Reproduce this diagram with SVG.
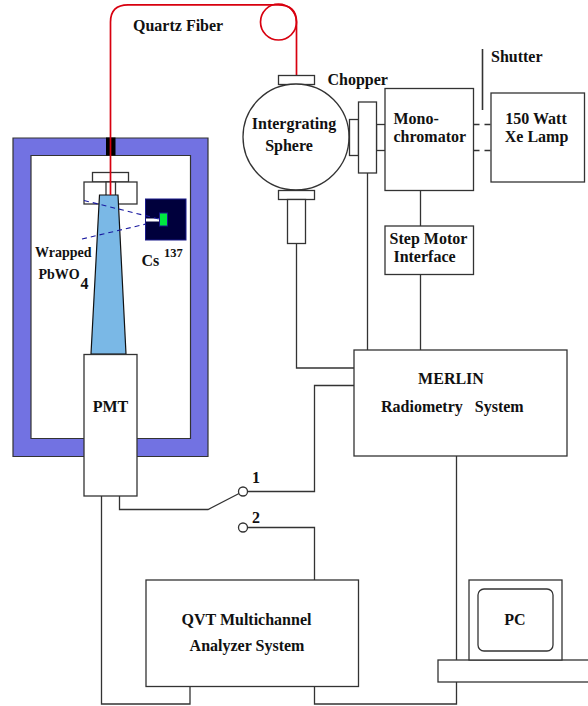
<svg xmlns="http://www.w3.org/2000/svg" width="588" height="706" viewBox="0 0 588 706">
<style>
.b{fill:#fff;stroke:#333;stroke-width:1.3}
.l{fill:none;stroke:#333;stroke-width:1.3}
.t{font-family:"Liberation Serif","Times New Roman",serif;font-weight:bold;font-size:16px;fill:#111}
.s{font-size:14px}
.x{font-size:12.500px}
.m{text-anchor:middle}
.r{fill:none;stroke:#d8000f;stroke-width:1.700}
</style>
<rect width="588" height="706" fill="#fff"/>
<g id="shield">
<path d="M13 138H208V456.500H13Z M31 155.500V438.500H190.500V155.500Z" fill="#7272e2" fill-rule="evenodd" stroke="#333" stroke-width="1.2"/>
<rect x="106" y="137.500" width="9.500" height="18" fill="#000"/>
</g>
<g id="connectors">
<path class="l" d="M296.500 243V368H354"/>
<path class="l" d="M367.500 173V350"/>
<path class="l" d="M420.500 190V226M420.500 274V350"/>
<path class="l" d="M354 385.500H314.500V491.500H248"/>
<path class="l" d="M119.500 496V509.500H208L240 493"/>
<path class="l" d="M248 527.500H314.500V580"/>
<path class="l" d="M101.500 496V704H190V686"/>
<path class="l" d="M314.500 686V704H456.500V456"/>
<path class="l" d="M473.500 124.500H491M473.500 150.500H491" stroke-dasharray="6 5"/>
<path class="l" style="stroke-width:1.600" d="M482.500 49V110"/>
</g>
<g id="holder">
<rect class="b" x="92.500" y="172.500" width="36" height="9.500"/>
<rect class="b" x="84" y="182" width="53" height="22"/>
<rect class="b" x="106" y="182" width="9.500" height="14"/>
</g>
<g id="crystal">
<path d="M99.500 195H118L126 354H91Z" fill="#7ab8e6" stroke="#111" stroke-width="1.2"/>
</g>
<g id="source">
<rect x="145.500" y="199" width="40.500" height="41" fill="#00003c" stroke="#1a1a8a"/>
<rect x="146" y="218.500" width="14" height="3" fill="#fff"/>
<rect x="159.500" y="213" width="8" height="13" fill="#00e840" stroke="#1a1a8a"/>
<path d="M84 200.500L159 219M82 239L146 224" fill="none" stroke="#1a1aa0" stroke-width="1.1" stroke-dasharray="5 4"/>
</g>
<g id="fiber">
<path class="r" d="M110.500 195V22Q110.500 4.800 128 4.800H278Q296.500 4.800 296.500 22V75"/>
<circle class="r" cx="278.500" cy="22" r="18"/>
</g>
<g id="pmt">
<rect class="b" x="84" y="354.500" width="53" height="141.500"/>
<text class="t m" x="110.500" y="411.500">PMT</text>
</g>
<g id="sphere">
<rect class="b" x="278.500" y="75.500" width="36" height="9"/>
<circle class="b" cx="296" cy="137" r="53"/>
<rect class="b" x="278.500" y="190.500" width="36" height="9"/>
<rect class="b" x="287.500" y="199.500" width="18" height="44"/>
<text class="t m" x="294" y="129">Intergrating</text>
<text class="t m" x="289" y="151">Sphere</text>
</g>
<g id="chopper">
<rect class="b" x="349.500" y="119.500" width="9" height="36"/>
<rect class="b" x="376.500" y="124.500" width="9" height="26"/>
<rect class="b" x="358.500" y="102" width="18" height="71"/>
<text class="t" x="327.500" y="85">Chopper</text>
</g>
<g id="monochromator">
<rect class="b" x="385" y="88.500" width="88.500" height="102"/>
<text class="t" x="393.500" y="123.500">Mono-</text>
<text class="t" x="393.500" y="142">chromator</text>
</g>
<g id="shutter"><text class="t" x="491" y="62">Shutter</text></g>
<g id="lamp">
<rect class="b" x="491" y="93" width="93.500" height="89"/>
<text class="t m" x="536" y="123.500">150 Watt</text>
<text class="t m" x="536.500" y="142">Xe Lamp</text>
</g>
<g id="step-motor">
<rect class="b" x="385" y="226" width="88.500" height="48.500"/>
<text class="t m" x="428.500" y="244">Step Motor</text>
<text class="t m" x="424.500" y="262">Interface</text>
</g>
<g id="merlin">
<rect class="b" x="354" y="350" width="213" height="106"/>
<text class="t m" x="451" y="384">MERLIN</text>
<text class="t" x="381" y="412" xml:space="preserve">Radiometry   System</text>
</g>
<g id="switch">
<circle class="b" cx="243" cy="491.500" r="4.500"/>
<circle class="b" cx="243" cy="527.500" r="4.500"/>
<text class="t" x="252" y="483">1</text>
<text class="t" x="252" y="523">2</text>
</g>
<g id="qvt">
<rect class="b" x="146" y="580" width="212.500" height="106.500"/>
<text class="t m" x="246.500" y="625">QVT Multichannel</text>
<text class="t m" x="247" y="651">Analyzer System</text>
</g>
<g id="pc">
<rect class="b" x="438" y="660" width="151" height="22"/>
<rect class="b" x="469" y="580" width="93" height="80"/>
<rect class="b" x="478" y="589" width="75" height="62" rx="6"/>
<text class="t m" x="515" y="625">PC</text>
</g>
<g id="labels">
<text class="t" x="133" y="31">Quartz Fiber</text>
<text class="t s" x="35" y="257">Wrapped</text>
<text class="t s" x="38.500" y="279">PbWO</text>
<text class="t" x="80.500" y="288.500">4</text>
<text class="t" x="141.500" y="266">Cs</text>
<text class="t x" x="164" y="257">137</text>
</g>
</svg>
